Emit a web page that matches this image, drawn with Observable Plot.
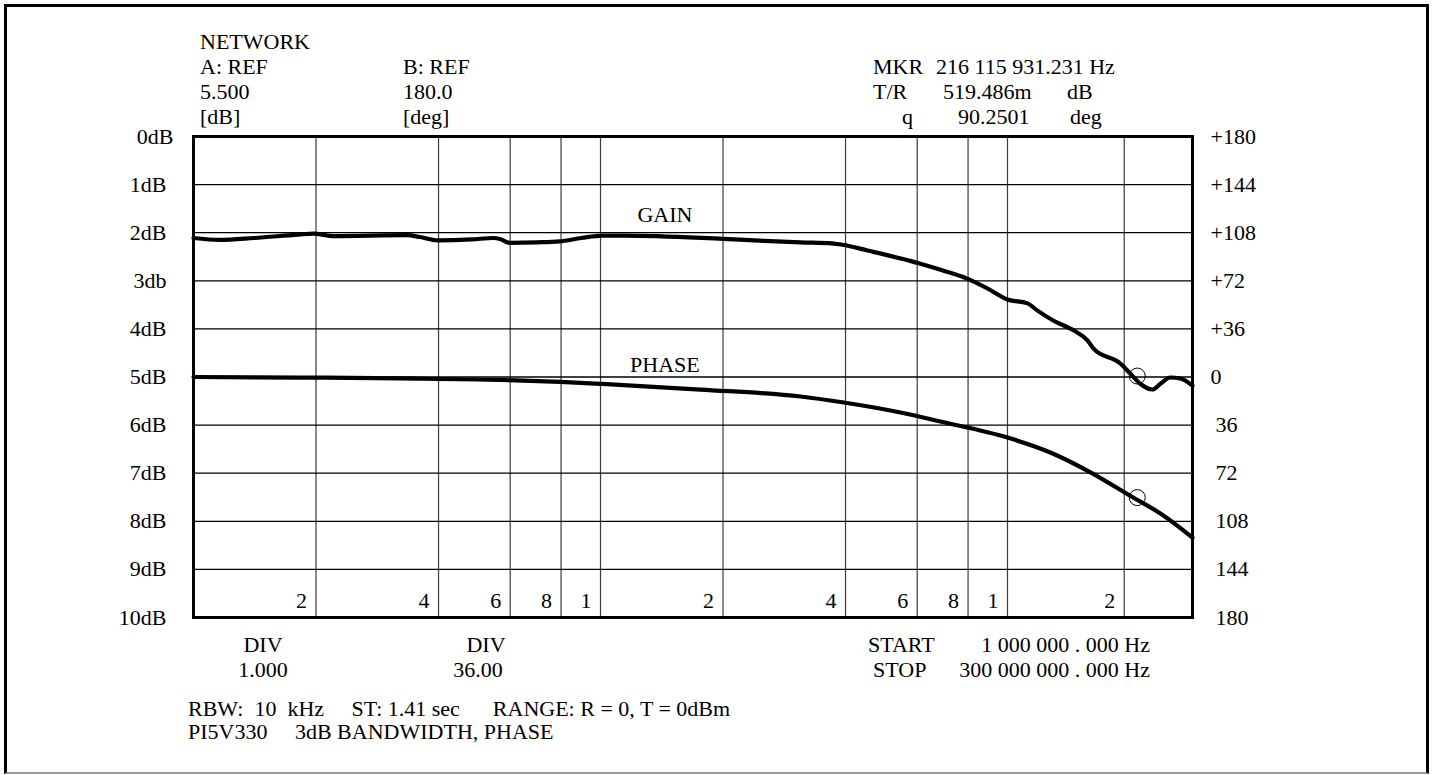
<!DOCTYPE html>
<html>
<head>
<meta charset="utf-8">
<script src="https://cdn.jsdelivr.net/npm/d3@7"></script>
<script src="https://cdn.jsdelivr.net/npm/@observablehq/plot@0.6"></script>
<style>
html, body { margin: 0; padding: 0; background: #fff; overflow: hidden; width: 1433px; height: 775px; }
#wrap { position: relative; width: 1433px; height: 775px; }
#chart { position: absolute; left: 0; top: 0; }
#frame { position: absolute; left: 4px; top: 4px; width: 1425px; height: 770px; box-sizing: border-box;
  border: 3px solid #000; border-bottom: 2px solid #999; pointer-events: none; }
.t { position: absolute; font-family: "Liberation Serif", "Times New Roman", serif; font-size: 22px;
  line-height: 22px; white-space: pre; color: #000; }
</style>
</head>
<body>
<div id="wrap"><div id="chart"></div><div id="frame"></div></div>
<script>
// ---- data ----
const gridMHz    = [2, 4, 6, 8, 10, 20, 40, 60, 80, 100, 200];
const gridLabels = ["2", "4", "6", "8", "1", "2", "4", "6", "8", "1", "2"];

const divTicks    = [0, 1, 2, 3, 4, 5, 6, 7, 8, 9, 10];
const leftLabels  = ["0dB", "1dB", "2dB", "3db", "4dB", "5dB", "6dB", "7dB", "8dB", "9dB", "10dB"];
const rightLabels = ["+180", "+144", "+108", "+72", "+36", "0", "36", "72", "108", "144", "180"];

// gain trace, read against the left (dB) scale
const gainMHz = [1.0, 1.16, 1.41, 1.81, 1.97, 2.21, 3.35, 3.6, 3.98, 4.83, 5.46, 5.66, 5.98, 7.0, 7.93,
  8.98, 10.1, 11.5, 20.0, 23.9, 31.0, 37.0, 39.3, 45.3, 60.8, 69.7, 79.3, 89.3, 100, 112.6, 119.5,
  131.5, 148, 160.8, 166.7, 195.5, 207.5, 220, 236.5, 248, 263, 279, 300];
const gainDb = [2.11, 2.15, 2.11, 2.04, 2.02, 2.07, 2.05, 2.09, 2.16, 2.14, 2.11, 2.13, 2.21, 2.20, 2.18,
  2.11, 2.06, 2.06, 2.13, 2.16, 2.20, 2.22, 2.25, 2.37, 2.64, 2.79, 2.95, 3.16, 3.39, 3.47, 3.62,
  3.83, 4.03, 4.24, 4.41, 4.72, 4.93, 5.14, 5.26, 5.14, 5.01, 5.03, 5.18];

// phase trace, degrees on the right scale (0 at mid-screen, 36 deg / div)
const phaseMHz = [1.0, 1.83, 3.23, 5.68, 7.97, 10.1, 17.6, 31.0, 39.6, 54.6, 68.4, 100, 129, 161, 211, 248, 300];
const phaseDeg = [0, -0.4, -1.1, -2.2, -3.7, -5.2, -9.4, -14.6, -19.1, -26.6, -33.3, -45.3, -56.5, -70.2, -90.2, -102.2, -120.2];

const markerMHz = 216.115931231;
const markerGainDb = 4.98;
const markerPhaseDeg = -90.25;

const traceNames = ["GAIN", "PHASE"];
const traceLabelMHz = [14.4, 14.4];
const traceLabelDiv = [1.64, 4.74];

// ---- build tables ----
const degToDiv = d => 5 - d / 36;
const gain = gainMHz.map((f, i) => ({f, v: gainDb[i]}));
const phase = phaseMHz.map((f, i) => ({f, v: degToDiv(phaseDeg[i])}));
const markers = [{f: markerMHz, v: markerGainDb}, {f: markerMHz, v: degToDiv(markerPhaseDeg)}];
const traceLabels = traceNames.map((name, i) => ({name, f: traceLabelMHz[i], v: traceLabelDiv[i]}));
const grid = gridMHz.map((f, i) => ({f, label: gridLabels[i]}));
const left = divTicks.map((v, i) => ({v, label: leftLabels[i]}));
const right = divTicks.map((v, i) => ({v, label: rightLabels[i]}));

const chart = Plot.plot({
  width: 1433, height: 775,
  marginLeft: 193, marginRight: 241, marginTop: 136, marginBottom: 158,
  style: {fontFamily: "'Liberation Serif', 'Times New Roman', serif", fontSize: "22px", background: "transparent", color: "#000"},
  x: {type: "log", domain: [1, 100, 300], range: [193, 1007, 1192], axis: null},
  y: {domain: [0, 10], range: [136, 617], axis: null},
  marks: [
    Plot.ruleX(grid, {x: "f", stroke: "#3a3a3a", strokeWidth: 1.2}),
    Plot.ruleY(divTicks.slice(1, 10), {stroke: "#000", strokeWidth: 1.3}),
    Plot.text(grid, {x: "f", text: "label", frameAnchor: "bottom", dx: -9, dy: -10, textAnchor: "end", fontSize: 22}),
    Plot.text(left.slice(0, 1), {y: "v", text: "label", frameAnchor: "left", dx: -20, textAnchor: "end", fontSize: 22}),
    Plot.text(left.slice(1), {y: "v", text: "label", frameAnchor: "left", dx: -27, textAnchor: "end", fontSize: 22}),
    Plot.text(right.slice(0, 6), {y: "v", text: "label", frameAnchor: "right", dx: 18, textAnchor: "start", fontSize: 22}),
    Plot.text(right.slice(6), {y: "v", text: "label", frameAnchor: "right", dx: 23, textAnchor: "start", fontSize: 22}),
    Plot.line(gain, {x: "f", y: "v", stroke: "#000", strokeWidth: 4.2, curve: "monotone-x"}),
    Plot.line(phase, {x: "f", y: "v", stroke: "#000", strokeWidth: 4.2, curve: "monotone-x"}),
    Plot.dot(markers, {x: "f", y: "v", r: 8, stroke: "#000", strokeWidth: 1, fill: "none"}),
    Plot.text(traceLabels, {x: "f", y: "v", text: "name", fontSize: 22}),
    Plot.frame({stroke: "#000", strokeWidth: 3})
  ]
});
document.getElementById("chart").appendChild(chart);

// ---- instrument annotation text ----
const notes = [
  ["NETWORK", 200, 42, "start"],
  ["A: REF", 200, 67, "start"], ["5.500", 200, 92, "start"], ["[dB]", 200, 117, "start"],
  ["B: REF", 403, 67, "start"], ["180.0", 403, 92, "start"], ["[deg]", 403, 117, "start"],
  ["MKR", 873, 67, "start"], ["216 115 931.231 Hz", 936, 67, "start"],
  ["T/R", 873, 92, "start"], ["519.486m", 943, 92, "start"], ["dB", 1067, 92, "start"],
  ["q", 902, 117, "start"], ["90.2501", 958, 117, "start"], ["deg", 1070, 117, "start"],
  ["DIV", 263, 645, "middle"], ["1.000", 263, 670, "middle"],
  ["DIV", 486, 645, "middle"], ["36.00", 478, 670, "middle"],
  ["START", 868, 645, "start"], ["1 000 000 . 000 Hz", 1150, 645, "end"],
  ["STOP", 873, 670, "start"], ["300 000 000 . 000 Hz", 1150, 670, "end"],
  ["RBW:  10  kHz     ST: 1.41 sec      RANGE: R = 0, T = 0dBm", 188, 709, "start"],
  ["PI5V330     3dB BANDWIDTH, PHASE", 188, 732, "start"]
];
const wrap = document.getElementById("wrap");
for (const [txt, x, cy, anchor] of notes) {
  const el = document.createElement("div");
  el.className = "t";
  el.textContent = txt;
  el.style.left = x + "px";
  el.style.top = (cy - 11) + "px";
  if (anchor === "middle") el.style.transform = "translateX(-50%)";
  if (anchor === "end") el.style.transform = "translateX(-100%)";
  wrap.appendChild(el);
}
</script>
</body>
</html>
